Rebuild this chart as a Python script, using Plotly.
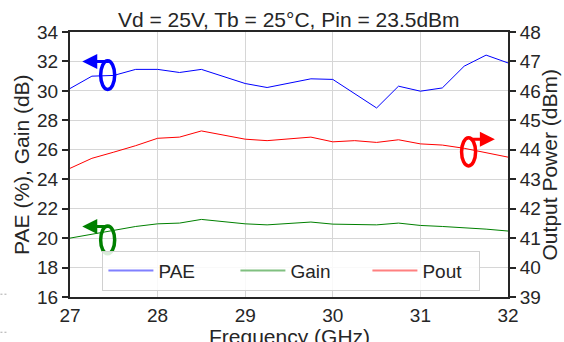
import plotly.graph_objects as go

freq = [27.0, 27.25, 27.5, 27.75, 28.0, 28.25, 28.5, 28.75, 29.0, 29.25, 29.5,
        29.75, 30.0, 30.25, 30.5, 30.75, 31.0, 31.25, 31.5, 31.75, 32.0]
pae = [30.16, 31.0, 31.05, 31.46, 31.46, 31.25, 31.46, 31.0, 30.5, 30.23, 30.5,
       30.82, 30.78, 29.8, 28.84, 30.32, 29.98, 30.2, 31.68, 32.43, 31.9]
gain = [20.0, 20.27, 20.56, 20.79, 20.97, 21.02, 21.27, 21.13, 20.97, 20.9, 21.02,
        21.09, 20.95, 20.93, 20.9, 21.02, 20.86, 20.79, 20.72, 20.61, 20.48]
pout = [43.37, 43.71, 43.92, 44.14, 44.39, 44.43, 44.64, 44.5, 44.36, 44.31, 44.36,
        44.43, 44.27, 44.31, 44.25, 44.34, 44.2, 44.16, 44.05, 43.9, 43.75]

title = "Vd = 25V, Tb = 25°C, Pin = 23.5dBm"
x_title = "Frequency (GHz)"
y_title = "PAE (%), Gain (dB)"
y2_title = "Output Power (dBm)"
FONT = "Liberation Sans, Arial, sans-serif"
AX = "#262626"
TXT = "#262626"

fig = go.Figure()
fig.add_trace(go.Scatter(x=freq, y=pae, mode="lines", line=dict(color="#0000ff", width=1), showlegend=False))
fig.add_trace(go.Scatter(x=freq, y=gain, mode="lines", line=dict(color="#008000", width=1), showlegend=False))
fig.add_trace(go.Scatter(x=freq, y=pout, mode="lines", line=dict(color="#ff0000", width=1), showlegend=False, yaxis="y2"))
# legend-only entries
for name, col, lw in [("PAE", "#8080ff", None), ("Gain", "#80c080", None), ("Pout", "#ff8080", 52)]:
    fig.add_trace(go.Scatter(x=[None], y=[None], mode="lines", name=name, line=dict(color=col, width=2),
                             legendwidth=lw))

# ellipses
fig.add_shape(type="circle", xref="x", yref="y", x0=27.35, x1=27.51, y0=30.1, y1=32.05,
              line=dict(color="#0000ff", width=3.5))
fig.add_shape(type="circle", xref="x", yref="y", x0=27.35, x1=27.51, y0=18.93, y1=20.83,
              line=dict(color="#008000", width=3.5))
fig.add_shape(type="circle", xref="x", yref="y2", x0=31.47, x1=31.63, y0=43.45, y1=44.41,
              line=dict(color="#ff0000", width=3.5))

# small dashed marks at the left edge (as in the reference)
for yy in (0.0106, -0.133):
    fig.add_shape(type="line", xref="paper", yref="paper", x0=-0.1588, x1=-0.1405, y0=yy, y1=yy,
                  line=dict(color="#aaaaaa", width=1, dash="2px,2px"))

# arrows
fig.add_annotation(x=27.14, y=32.0, xref="x", yref="y", ax=28, ay=0, text="", showarrow=True,
                   arrowhead=2, arrowwidth=3, arrowsize=1, arrowcolor="#0000ff")
fig.add_annotation(x=27.14, y=20.79, xref="x", yref="y", ax=28, ay=0, text="", showarrow=True,
                   arrowhead=2, arrowwidth=3, arrowsize=1, arrowcolor="#008000")
fig.add_annotation(x=31.85, y=44.36, xref="x", yref="y2", ax=-26, ay=0, text="", showarrow=True,
                   arrowhead=2, arrowwidth=3, arrowsize=1, arrowcolor="#ff0000")

# axis titles
fig.add_annotation(x=0.5, y=-0.098, xref="paper", yref="paper", text=x_title, showarrow=False,
                   xanchor="center", yanchor="top", font=dict(size=21, color=TXT))
fig.add_annotation(x=-0.111, y=0.5, xref="paper", yref="paper", text=y_title, showarrow=False,
                   textangle=-90, xanchor="center", yanchor="middle", font=dict(size=21, color=TXT))
fig.add_annotation(x=1.0958, y=0.5, xref="paper", yref="paper", text=y2_title, showarrow=False,
                   textangle=-90, xanchor="center", yanchor="middle", font=dict(size=21, color=TXT))

fig.update_layout(
    width=564, height=342,
    margin=dict(l=70, r=56, t=32, b=45, autoexpand=False),
    paper_bgcolor="white", plot_bgcolor="white",
    font=dict(family=FONT, size=19, color=TXT),
    title=dict(text=title, x=0.512, xanchor="center", yref="container", y=0.942, yanchor="middle",
               font=dict(size=21, color=TXT)),
    xaxis=dict(range=[27, 32], dtick=1, showgrid=True, gridcolor="#d6d6d6", gridwidth=1,
               showline=True, linecolor=AX, linewidth=2, mirror=True, automargin=False,
               ticks="", tickfont=dict(size=19), zeroline=False),
    yaxis=dict(range=[16, 34], dtick=2, showgrid=True, gridcolor="#d6d6d6", gridwidth=1,
               showline=True, linecolor=AX, linewidth=2, ticks="outside", ticklen=6,
               tickcolor=AX, tickwidth=1.5, tickfont=dict(size=19), zeroline=False, automargin=False),
    yaxis2=dict(range=[39, 48], dtick=1, overlaying="y", side="right", showgrid=False,
                showline=True, linecolor=AX, linewidth=2, ticks="outside", ticklen=6,
                tickcolor=AX, tickwidth=1.5, tickfont=dict(size=19), zeroline=False, automargin=False),
    legend=dict(orientation="h", x=0.074, xanchor="left", y=0.175, yanchor="top",
                bgcolor="rgba(255,255,255,0.85)", bordercolor="#d0d0d0", borderwidth=1,
                font=dict(size=19), entrywidth=72, itemwidth=45, tracegroupgap=0),
)

fig.write_html("out.html")
